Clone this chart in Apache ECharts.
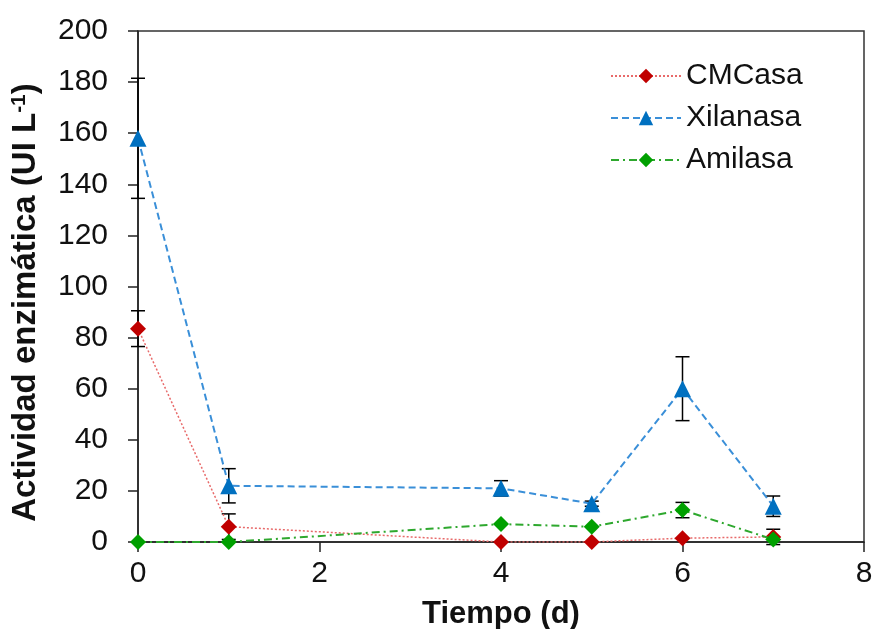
<!DOCTYPE html>
<html>
<head>
<meta charset="utf-8">
<script src="https://cdn.jsdelivr.net/npm/echarts@6/dist/echarts.min.js"></script>
<style>
    html, body { margin: 0; padding: 0; background: #fff; }
    #chart { width: 873px; height: 629px; }
</style>
</head>
<body>
<div id="chart"></div>
<script>
    // tiempo (d)
    const dias = [0, 1, 4, 5, 6, 7];
    const xTicks = [0, 2, 4, 6, 8];
    const yTicks = [0, 20, 40, 60, 80, 100, 120, 140, 160, 180, 200];

    const cmcasa = [83.5, 6, 0, 0, 1.5, 2];
    const cmcasaErr = [7, 5, 0, 0, 0, 3];
    const xilanasa = [158, 22, 21, 15, 60, 14];
    const xilanasaErr = [23.5, 6.7, 3, 1, 12.5, 4];
    const amilasa = [0, 0, 7, 6, 12.5, 1];
    const amilasaErr = [0, 0, 0, 0, 3, 0];

    const font = "'Liberation Sans', Arial, sans-serif";

    function pares(vals) {
        return dias.map((d, i) => [d, vals[i]]);
    }

    function barras(vals, errs) {
        return dias.map((d, i) => [d, vals[i] - errs[i], vals[i] + errs[i]]).filter((r, i) => errs[i] > 0);
    }

    function errorSeries(vals, errs) {
        return {
            type: 'custom',
            silent: true,
            z: 1,
            renderItem: function (params, api) {
                let x = api.value(0);
                let lo = api.coord([x, api.value(1)]);
                let hi = api.coord([x, api.value(2)]);
                let w = 7;
                let st = { stroke: '#000', lineWidth: 1.5 };
                return {
                    type: 'group',
                    children: [
                        { type: 'line', shape: { x1: lo[0], y1: lo[1], x2: hi[0], y2: hi[1] }, style: st },
                        { type: 'line', shape: { x1: lo[0] - w, y1: lo[1], x2: lo[0] + w, y2: lo[1] }, style: st },
                        { type: 'line', shape: { x1: hi[0] - w, y1: hi[1], x2: hi[0] + w, y2: hi[1] }, style: st }
                    ]
                };
            },
            encode: { x: 0, y: [1, 2] },
            data: barras(vals, errs)
        };
    }

    let chart = echarts.init(document.getElementById('chart'));
    let option = {
        animation: false,
        textStyle: { fontFamily: font },
        grid: {
            left: 138,
            right: 9,
            top: 31,
            bottom: 87,
            outerBoundsMode: 'none',
            show: true,
            borderColor: '#333',
            borderWidth: 1.5
        },
        legend: {
            orient: 'vertical',
            left: 605,
            top: 56,
            itemWidth: 70,
            itemHeight: 18,
            itemGap: 12,
            textStyle: { fontSize: 30, color: '#111', fontFamily: font, lineHeight: 30 },
            data: ['CMCasa', 'Xilanasa', 'Amilasa']
        },
        xAxis: {
            type: 'value',
            min: 0,
            max: 8,
            interval: 2,
            name: 'Tiempo (d)',
            nameLocation: 'middle',
            nameGap: 57,
            nameTextStyle: { fontSize: 31, fontWeight: 'bold', color: '#111', fontFamily: font },
            axisLine: { lineStyle: { color: '#222', width: 1.5 } },
            axisTick: { show: true, length: 10, lineStyle: { color: '#222', width: 1.5 } },
            axisLabel: {
                fontSize: 30, color: '#111', margin: 17,
                formatter: v => xTicks.includes(v) ? String(v) : ''
            },
            splitLine: { show: false }
        },
        yAxis: {
            type: 'value',
            min: 0,
            max: 200,
            interval: 20,
            name: '{a|Actividad enzimática (UI L}{s|-1}{a|)}',
            nameLocation: 'middle',
            nameGap: 96,
            nameRotate: 90,
            nameTextStyle: {
                padding: [0, 32, 0, 0],
                rich: {
                    a: { fontSize: 33, fontWeight: 'bold', color: '#111', fontFamily: font, lineHeight: 33 },
                    s: { fontSize: 21, fontWeight: 'bold', color: '#111', fontFamily: font, verticalAlign: 'top', lineHeight: 33, padding: [0, 0, 12, 0] }
                }
            },
            axisLine: { show: true, lineStyle: { color: '#222', width: 1.5 } },
            axisTick: { show: true, length: 10, lineStyle: { color: '#222', width: 1.5 } },
            axisLabel: {
                fontSize: 30, color: '#111', margin: 30,
                formatter: v => yTicks.includes(v) ? String(v) : ''
            },
            splitLine: { show: false }
        },
        series: [
            errorSeries(cmcasa, cmcasaErr),
            errorSeries(xilanasa, xilanasaErr),
            errorSeries(amilasa, amilasaErr),
            {
                name: 'CMCasa',
                type: 'line',
                z: 3,
                symbol: 'diamond',
                symbolSize: 16,
                itemStyle: { color: '#c00000' },
                lineStyle: { color: '#e86a6a', width: 1.5, type: [2, 2] },
                data: pares(cmcasa)
            },
            {
                name: 'Xilanasa',
                type: 'line',
                z: 4,
                symbol: 'triangle',
                symbolSize: 17,
                itemStyle: { color: '#0070c0' },
                lineStyle: { color: '#3a8fd8', width: 2, type: [7, 4] },
                data: pares(xilanasa)
            },
            {
                name: 'Amilasa',
                type: 'line',
                z: 5,
                symbol: 'diamond',
                symbolSize: 16,
                itemStyle: { color: '#00a000' },
                lineStyle: { color: '#2ea82e', width: 2, type: [8, 4, 2, 4] },
                data: pares(amilasa)
            }
        ]
    };
    chart.setOption(option);
    window.addEventListener('resize', function () {
        chart.resize();
    });
</script>
</body>
</html>
